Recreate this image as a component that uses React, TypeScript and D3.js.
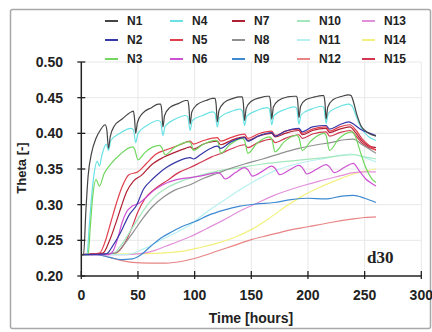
import React from 'react';
import * as d3 from 'd3';

type Pt = [number, number];

// time [h], theta [-]
const n1: Pt[] = [[0,.23],[2,.23],[4,.29],[6,.34],[9,.372],[13,.393],[17,.405],[21,.412],[22.5,.405],[24,.379],[25.5,.395],[29,.41],[36,.42],[44,.43],[46,.431],[47,.42],[48,.4],[49.5,.415],[54,.428],[62,.436],[68,.441],[70,.441],[71,.432],[72,.409],[73.5,.425],[78,.436],[86,.442],[92,.446],[94,.446],[95,.436],[96,.413],[97.5,.43],[102,.44],[110,.446],[116,.449],[118,.449],[119,.44],[120,.416],[121.5,.432],[126,.443],[134,.449],[140,.451],[142,.451],[143,.442],[144,.418],[145.5,.435],[150,.445],[158,.45],[164,.452],[166,.452],[167,.443],[168,.42],[169.5,.437],[174,.446],[182,.451],[188,.452],[190,.452],[191,.444],[192,.422],[193.5,.438],[198,.447],[206,.451],[212,.453],[214,.453],[215,.443],[216,.42],[217.5,.437],[222,.447],[230,.452],[236,.454],[238,.453],[240,.445],[243,.427],[247,.41],[252,.402],[260,.396]];
const n2: Pt[] = [[0,.23],[22,.231],[28,.243],[35,.262],[42,.285],[49,.3],[55,.322],[61,.333],[67,.342],[75,.352],[84,.36],[92,.365],[96,.366],[99,.364],[105,.37],[113,.378],[120,.382],[123,.379],[132,.388],[144,.394],[147,.389],[156,.396],[168,.401],[171,.396],[180,.403],[192,.407],[195,.402],[204,.409],[216,.411],[219,.406],[228,.412],[236,.416],[241,.412],[247,.405],[253,.401],[260,.397]];
const n3: Pt[] = [[0,.23],[6,.23],[8,.27],[10,.31],[13,.335],[16,.326],[20,.343],[26,.357],[34,.37],[45,.381],[47,.378],[50,.363],[56,.373],[69,.383],[71,.38],[74,.37],[82,.38],[95,.388],[97,.385],[99,.376],[107,.384],[119,.39],[121,.386],[123,.372],[131,.384],[142,.393],[144,.39],[147,.372],[155,.386],[166,.395],[168,.392],[171,.374],[179,.388],[190,.397],[192,.394],[195,.376],[203,.39],[214,.4],[216,.397],[219,.376],[227,.392],[239,.402],[242,.395],[246,.375],[251,.352],[256,.337],[260,.331]];
const n4: Pt[] = [[0,.23],[5,.23],[7,.27],[9,.31],[11,.34],[14,.361],[16,.354],[18,.368],[22,.385],[24,.376],[26,.39],[33,.399],[44,.407],[46,.405],[48,.387],[50,.4],[58,.411],[68,.418],[70,.416],[72,.397],[74,.41],[83,.42],[92,.425],[94,.423],[96,.404],[98,.418],[107,.425],[116,.43],[118,.428],[120,.409],[122,.422],[131,.43],[140,.434],[142,.432],[144,.411],[146,.424],[155,.432],[164,.436],[166,.434],[168,.412],[170,.425],[179,.433],[188,.437],[190,.435],[192,.413],[194,.426],[203,.434],[212,.438],[214,.436],[216,.414],[218,.428],[227,.437],[236,.441],[239,.438],[243,.422],[248,.405],[253,.396],[260,.39]];
const n5: Pt[] = [[0,.23],[16,.232],[21,.248],[26,.275],[31,.302],[36,.325],[42,.342],[50,.346],[57,.357],[66,.371],[77,.378],[87,.384],[96,.389],[99,.385],[108,.39],[120,.394],[123,.389],[132,.394],[144,.399],[147,.393],[156,.399],[168,.403],[171,.397],[180,.403],[192,.406],[195,.4],[204,.406],[216,.409],[219,.403],[228,.409],[237,.412],[242,.405],[248,.392],[254,.383],[260,.376]];
const n6: Pt[] = [[0,.23],[24,.23],[28,.235],[32,.252],[36,.275],[40,.29],[45,.298],[51,.302],[57,.31],[64,.32],[72,.328],[84,.335],[96,.338],[108,.341],[120,.345],[123,.343],[127,.336],[136,.345],[144,.352],[147,.349],[151,.34],[160,.347],[168,.354],[171,.351],[175,.342],[184,.349],[192,.355],[195,.352],[199,.343],[208,.35],[216,.356],[219,.353],[223,.345],[232,.352],[240,.358],[245,.348],[251,.336],[256,.33],[260,.326]];
const n7: Pt[] = [[0,.23],[19,.232],[25,.25],[30,.272],[35,.296],[40,.318],[46,.333],[53,.341],[62,.356],[72,.366],[82,.373],[92,.379],[96,.381],[99,.378],[108,.385],[120,.389],[123,.384],[132,.39],[144,.395],[147,.39],[156,.396],[168,.4],[171,.395],[180,.4],[192,.404],[195,.398],[204,.404],[216,.407],[219,.401],[228,.406],[237,.409],[242,.401],[248,.389],[254,.382],[260,.38]];
const n8: Pt[] = [[0,.23],[30,.232],[38,.245],[46,.262],[54,.28],[62,.296],[72,.31],[82,.32],[96,.328],[108,.337],[120,.344],[132,.351],[144,.357],[160,.364],[176,.372],[192,.379],[208,.384],[220,.387],[232,.391],[240,.392],[248,.384],[260,.372]];
const n9: Pt[] = [[0,.23],[14,.23],[25,.226],[35,.223],[45,.224],[52,.229],[60,.24],[70,.253],[80,.262],[90,.27],[100,.276],[112,.285],[125,.292],[140,.298],[155,.301],[170,.303],[185,.307],[200,.309],[215,.308],[230,.312],[240,.313],[250,.309],[260,.303]];
const n10: Pt[] = [[0,.23],[28,.232],[36,.245],[44,.265],[52,.285],[58,.299],[66,.313],[76,.324],[90,.334],[105,.341],[120,.347],[140,.352],[160,.357],[190,.362],[215,.366],[240,.37],[250,.367],[260,.364]];
const n11: Pt[] = [[0,.23],[40,.23],[55,.238],[70,.25],[85,.262],[96,.272],[110,.289],[125,.305],[140,.321],[155,.335],[170,.347],[190,.357],[215,.365],[238,.371],[250,.366],[260,.36]];
const n12: Pt[] = [[0,.23],[15,.23],[25,.226],[35,.222],[45,.219],[60,.218],[75,.218],[90,.221],[105,.227],[120,.235],[135,.243],[150,.251],[165,.257],[180,.263],[200,.269],[220,.275],[240,.28],[250,.282],[260,.283]];
const n13: Pt[] = [[0,.23],[40,.23],[55,.232],[65,.236],[75,.242],[85,.248],[96,.255],[110,.266],[125,.278],[140,.291],[155,.302],[170,.313],[190,.324],[210,.333],[230,.341],[240,.345],[250,.346],[260,.346]];
const n14: Pt[] = [[0,.23],[40,.231],[70,.232],[90,.235],[105,.24],[120,.246],[135,.254],[150,.265],[165,.28],[180,.297],[195,.312],[210,.324],[225,.334],[240,.343],[250,.347],[260,.35]];
const n15: Pt[] = [[0,.23],[30,.232],[38,.245],[44,.265],[50,.29],[56,.308],[64,.321],[75,.333],[87,.346],[96,.352],[105,.359],[115,.367],[122,.371],[132,.378],[144,.384],[147,.38],[156,.387],[168,.392],[171,.387],[180,.393],[192,.398],[195,.393],[204,.399],[216,.402],[219,.396],[228,.401],[237,.404],[242,.397],[248,.386],[254,.38],[260,.377]];

const seriesNames = ['N1','N2','N3','N4','N5','N6','N7','N8','N9','N10','N11','N12','N13','N14','N15'];
const seriesData = [n1,n2,n3,n4,n5,n6,n7,n8,n9,n10,n11,n12,n13,n14,n15];
const colors = ['#444444','#3838a8','#72d860','#6ae2e4','#e23e4c','#cc50d2','#b02034','#909090','#3e8ad2','#a2e8bc','#b8f0f0','#e88484','#e290da','#f2f07e','#d23650'];

const xTicks = [0, 50, 100, 150, 200, 250, 300];
const yTicks = [0.2, 0.25, 0.3, 0.35, 0.4, 0.45, 0.5];

const W = 432, H = 332;
const x = d3.scaleLinear().domain([0, 300]).range([81.3, 421.3]);
const y = d3.scaleLinear().domain([0.2, 0.5]).range([276, 62]);

const line = d3.line<Pt>().x(d => x(d[0])).y(d => y(d[1])).curve(d3.curveMonotoneX);

const legendX = [105, 170, 232, 297, 362];
const legendY = [21, 40, 59];
const font = '"Liberation Sans", Arial, sans-serif';

export default function App() {
  const order = d3.range(seriesData.length).reverse();
  return (
    <svg width={W} height={H} style={{ position: 'absolute', left: 0, top: 0, background: '#fff' }}>
      <rect x={10.5} y={9.5} width={420} height={319} rx={2} fill="#fff" stroke="#a8a8a8" strokeWidth={1.5} />
      {/* grid */}
      {xTicks.slice(1).map(t => (
        <line key={'gx' + t} x1={x(t)} x2={x(t)} y1={y(0.5)} y2={y(0.2)} stroke="#e8e8e8" strokeWidth={1} />
      ))}
      {yTicks.slice(1).map(t => (
        <line key={'gy' + t} x1={x(0)} x2={x(300)} y1={y(t)} y2={y(t)} stroke="#e8e8e8" strokeWidth={1} />
      ))}
      {/* series */}
      {order.map(i => (
        <path key={seriesNames[i]} d={line(seriesData[i]) || ''} fill="none" stroke={colors[i]} strokeWidth={1.2} />
      ))}
      {/* axes */}
      <line x1={x(0)} x2={x(0)} y1={y(0.2)} y2={y(0.5)} stroke="#222" strokeWidth={1.5} />
      <line x1={x(0)} x2={x(300)} y1={y(0.2)} y2={y(0.2)} stroke="#222" strokeWidth={1.5} />
      {yTicks.map(t => (
        <g key={'yt' + t}>
          <line x1={x(0) - 4} x2={x(0) + 4} y1={y(t)} y2={y(t)} stroke="#222" strokeWidth={1.3} />
          <text x={63} y={y(t)} dy="0.35em" textAnchor="end" fontFamily={font} fontWeight="bold" fontSize={14} fill="#222">
            {t.toFixed(2)}
          </text>
        </g>
      ))}
      {xTicks.map(t => (
        <g key={'xt' + t}>
          <line x1={x(t)} x2={x(t)} y1={y(0.2) - 5} y2={y(0.2) + 3} stroke="#222" strokeWidth={1.3} />
          <text x={x(t)} y={300} textAnchor="middle" fontFamily={font} fontWeight="bold" fontSize={14} fill="#222">
            {t}
          </text>
        </g>
      ))}
      <text x={251} y={323} textAnchor="middle" fontFamily={font} fontWeight="bold" fontSize={14} fill="#222">Time [hours]</text>
      <text transform="translate(26,168) rotate(-90)" textAnchor="middle" fontFamily={font} fontWeight="bold" fontSize={13} fill="#222">Theta [-]</text>
      <text x={367} y={263} fontFamily='"Liberation Serif", "Times New Roman", serif' fontWeight="bold" fontSize={17} fill="#222">d30</text>
      {/* legend */}
      {seriesNames.map((name, i) => {
        const cx = legendX[Math.floor(i / 3)];
        const cy = legendY[i % 3];
        return (
          <g key={'lg' + name}>
            <line x1={cx} x2={cx + 13} y1={cy} y2={cy} stroke={colors[i]} strokeWidth={2} />
            <text x={cx + 22} y={cy} dy="0.35em" fontFamily={font} fontWeight="bold" fontSize={12} fill="#222">{name}</text>
          </g>
        );
      })}
    </svg>
  );
}
